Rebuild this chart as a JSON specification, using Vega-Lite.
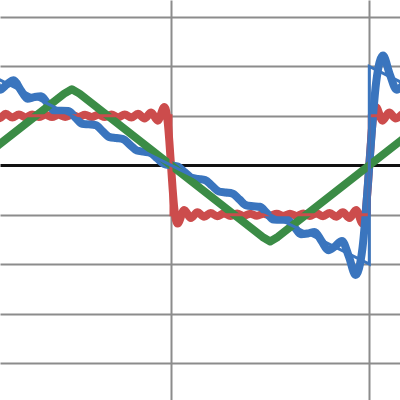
{
  "$schema": "https://vega.github.io/schema/vega-lite/v6.json",
  "width": 400,
  "height": 400,
  "autosize": {"type": "fit", "contains": "padding"},
  "padding": 0,
  "background": "white",
  "config": {"view": {"stroke": null}},
  "datasets": {
    "square": [
      {"x": 0.3142, "y": 1.0662}, {"x": 0.4189, "y": 0.949}, {"x": 0.5236, "y": 1.041}, {"x": 0.6283, "y": 0.965},
      {"x": 0.7330, "y": 1.030}, {"x": 0.8378, "y": 0.972}, {"x": 0.9425, "y": 1.0262}, {"x": 1.0472, "y": 0.9755},
      {"x": 1.1519, "y": 1.0232}, {"x": 1.2566, "y": 0.9777}, {"x": 1.3614, "y": 1.0217}, {"x": 1.4661, "y": 0.9787},
      {"x": 1.5708, "y": 1.0212}, {"x": 1.6755, "y": 0.9787}, {"x": 1.7802, "y": 1.0217}, {"x": 1.8850, "y": 0.9777},
      {"x": 1.9897, "y": 1.0232}, {"x": 2.0944, "y": 0.9755}, {"x": 2.1991, "y": 1.0262}, {"x": 2.3038, "y": 0.972},
      {"x": 2.4086, "y": 1.030}, {"x": 2.5133, "y": 0.965}, {"x": 2.6180, "y": 1.041}, {"x": 2.7227, "y": 0.949},
      {"x": 2.8274, "y": 1.0662}, {"x": 2.9322, "y": 0.9028}, {"x": 3.0369, "y": 1.1790}, {"x": 3.0631, "y": 1.1075},
      {"x": 3.0892, "y": 0.8727}, {"x": 3.1154, "y": 0.4830}, {"x": 3.1416, "y": 0}, {"x": 3.1678, "y": -0.4830},
      {"x": 3.1940, "y": -0.8727}, {"x": 3.2201, "y": -1.1075}, {"x": 3.2463, "y": -1.1790}, {"x": 3.3510, "y": -0.9028},
      {"x": 3.4558, "y": -1.0662}, {"x": 3.5605, "y": -0.949}, {"x": 3.6652, "y": -1.041}, {"x": 3.7699, "y": -0.965},
      {"x": 3.8746, "y": -1.030}, {"x": 3.9794, "y": -0.972}, {"x": 4.0841, "y": -1.0262}, {"x": 4.1888, "y": -0.9755},
      {"x": 4.2935, "y": -1.0232}, {"x": 4.3982, "y": -0.9777}, {"x": 4.5029, "y": -1.0217}, {"x": 4.6077, "y": -0.9787},
      {"x": 4.7124, "y": -1.0212}, {"x": 4.8171, "y": -0.9787}, {"x": 4.9218, "y": -1.0217}, {"x": 5.0265, "y": -0.9777},
      {"x": 5.1313, "y": -1.0232}, {"x": 5.2360, "y": -0.9755}, {"x": 5.3407, "y": -1.0262}, {"x": 5.4454, "y": -0.972},
      {"x": 5.5501, "y": -1.030}, {"x": 5.6549, "y": -0.965}, {"x": 5.7596, "y": -1.041}, {"x": 5.8643, "y": -0.949},
      {"x": 5.9690, "y": -1.0662}, {"x": 6.0737, "y": -0.9028}, {"x": 6.1785, "y": -1.1790}, {"x": 6.2046, "y": -1.1075},
      {"x": 6.2308, "y": -0.8727}, {"x": 6.2570, "y": -0.4830}, {"x": 6.2832, "y": 0}, {"x": 6.3094, "y": 0.4830},
      {"x": 6.3355, "y": 0.8727}, {"x": 6.3617, "y": 1.1075}, {"x": 6.3879, "y": 1.1790}, {"x": 6.4926, "y": 0.9028},
      {"x": 6.5973, "y": 1.0662}, {"x": 6.7021, "y": 0.949}, {"x": 6.8068, "y": 1.041}
    ],
    "saw": [
      {"x": 0.3250, "y": 1.8392}, {"x": 0.4333, "y": 1.5298}, {"x": 0.5417, "y": 1.6366}, {"x": 0.6500, "y": 1.7182},
      {"x": 0.7583, "y": 1.5273}, {"x": 0.8666, "y": 1.3482}, {"x": 0.9750, "y": 1.3793}, {"x": 1.0833, "y": 1.3955},
      {"x": 1.1916, "y": 1.2414}, {"x": 1.3000, "y": 1.0999}, {"x": 1.4083, "y": 1.1034}, {"x": 1.5166, "y": 1.0983},
      {"x": 1.6250, "y": 0.9655}, {"x": 1.7333, "y": 0.8390}, {"x": 1.8416, "y": 0.8276}, {"x": 1.9500, "y": 0.8117},
      {"x": 2.0583, "y": 0.6897}, {"x": 2.1666, "y": 0.5710}, {"x": 2.2750, "y": 0.5517}, {"x": 2.3833, "y": 0.5301},
      {"x": 2.4916, "y": 0.4138}, {"x": 2.6000, "y": 0.2992}, {"x": 2.7083, "y": 0.2759}, {"x": 2.8166, "y": 0.2514},
      {"x": 2.9249, "y": 0.1379}, {"x": 3.0333, "y": 0.0250}, {"x": 3.1416, "y": 0}, {"x": 3.2499, "y": -0.0250},
      {"x": 3.3583, "y": -0.1379}, {"x": 3.4666, "y": -0.2514}, {"x": 3.5749, "y": -0.2759}, {"x": 3.6832, "y": -0.2992},
      {"x": 3.7916, "y": -0.4138}, {"x": 3.8999, "y": -0.5301}, {"x": 4.0082, "y": -0.5517}, {"x": 4.1166, "y": -0.5710},
      {"x": 4.2249, "y": -0.6897}, {"x": 4.3332, "y": -0.8117}, {"x": 4.4416, "y": -0.8276}, {"x": 4.5499, "y": -0.8390},
      {"x": 4.6582, "y": -0.9655}, {"x": 4.7666, "y": -1.0983}, {"x": 4.8749, "y": -1.1034}, {"x": 4.9832, "y": -1.0999},
      {"x": 5.0916, "y": -1.2414}, {"x": 5.1999, "y": -1.3955}, {"x": 5.3082, "y": -1.3793}, {"x": 5.4165, "y": -1.3482},
      {"x": 5.5249, "y": -1.5273}, {"x": 5.6332, "y": -1.7182}, {"x": 5.7415, "y": -1.6366}, {"x": 5.8499, "y": -1.5298},
      {"x": 5.9582, "y": -1.8392}, {"x": 6.0665, "y": -2.2200}, {"x": 6.1749, "y": -1.6763}, {"x": 6.2290, "y": -0.9315},
      {"x": 6.2832, "y": 0}, {"x": 6.3373, "y": 0.9315}, {"x": 6.3915, "y": 1.6763}, {"x": 6.4998, "y": 2.2200},
      {"x": 6.6082, "y": 1.8392}, {"x": 6.7165, "y": 1.5298}, {"x": 6.8248, "y": 1.6366}
    ],
    "tri": [
      {"x": 0.30, "y": 0.30}, {"x": 1.45, "y": 1.45}, {"x": 1.5708, "y": 1.54}, {"x": 1.6916, "y": 1.45},
      {"x": 4.5916, "y": -1.45}, {"x": 4.7124, "y": -1.54}, {"x": 4.8332, "y": -1.45}, {"x": 6.85, "y": 0.5668}
    ],
    "exactSquare": [
      {"i": 0, "x": 0.30, "y": 1}, {"i": 1, "x": 3.1416, "y": 1}, {"i": 2, "x": 3.1416, "y": -1},
      {"i": 3, "x": 6.2832, "y": -1}, {"i": 4, "x": 6.2832, "y": 1}, {"i": 5, "x": 6.85, "y": 1}
    ],
    "exactSaw": [
      {"i": 0, "x": 0.30, "y": 1.809}, {"i": 1, "x": 6.2832, "y": -2}, {"i": 2, "x": 6.2832, "y": 2},
      {"i": 3, "x": 6.85, "y": 1.6392}
    ]
  },
  "encoding": {
    "x": {
      "field": "x", "type": "quantitative",
      "scale": {"domain": [0.4325, 6.7696], "nice": false, "zero": false},
      "axis": {"values": [3.14159, 6.28319], "labels": false, "ticks": false, "domain": false, "title": null,
               "grid": true, "gridColor": "#8c8c8c", "gridWidth": 2}
    },
    "y": {
      "field": "y", "type": "quantitative",
      "scale": {"domain": [-4.748, 3.344], "nice": false, "zero": false},
      "axis": {"values": [-4, -3, -2, -1, 0, 1, 2, 3], "labels": false, "ticks": false, "domain": false, "title": null,
               "grid": true,
               "gridColor": {"condition": {"test": "datum.value === 0", "value": "#111111"}, "value": "#8c8c8c"},
               "gridWidth": {"condition": {"test": "datum.value === 0", "value": 3}, "value": 2}}
    }
  },
  "layer": [
    {"data": {"name": "square"}, "mark": {"type": "line", "color": "#cc4c4c", "strokeWidth": 8, "interpolate": "monotone", "clip": true, "strokeJoin": "round"}},
    {"data": {"name": "saw"}, "mark": {"type": "line", "color": "#3a75be", "strokeWidth": 8, "interpolate": "monotone", "clip": true, "strokeJoin": "round"}},
    {"data": {"name": "tri"}, "mark": {"type": "line", "color": "#3b8c46", "strokeWidth": 8, "clip": true, "strokeJoin": "round"}},
    {"data": {"name": "exactSquare"}, "mark": {"type": "line", "color": "#cc4c4c", "strokeWidth": 3, "clip": true}, "encoding": {"order": {"field": "i", "type": "quantitative"}}},
    {"data": {"name": "exactSaw"}, "mark": {"type": "line", "color": "#3a75be", "strokeWidth": 3, "clip": true}, "encoding": {"order": {"field": "i", "type": "quantitative"}}}
  ]
}
